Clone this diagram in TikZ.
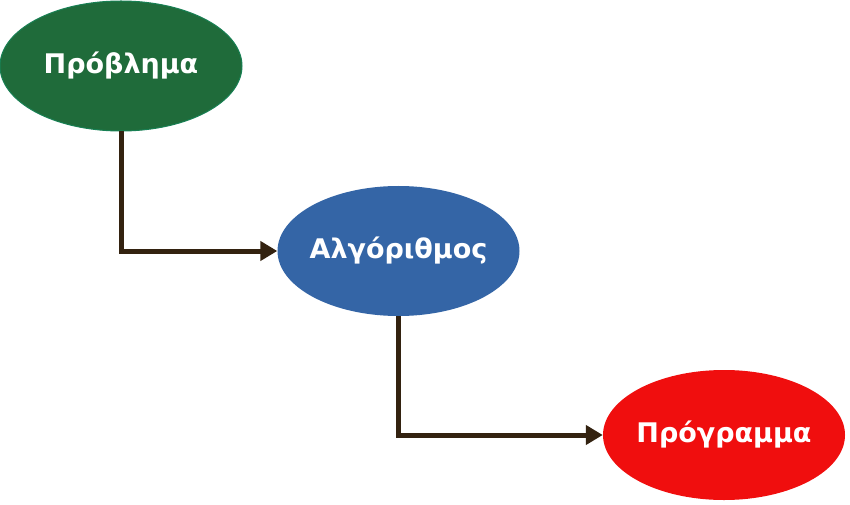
\documentclass[tikz,border=0pt]{standalone}
\usepackage{fontspec}
\setmainfont{DejaVu Sans}
\usetikzlibrary{arrows.meta,shapes.geometric}

\definecolor{probgreen}{RGB}{31,107,58}
\definecolor{probedge}{RGB}{24,128,84}
\definecolor{algoblue}{RGB}{52,101,166}
\definecolor{progred}{RGB}{240,14,14}
\definecolor{arrowbrown}{RGB}{51,34,16}

\begin{document}
\begin{tikzpicture}[x=1pt,y=1pt,
    blob/.style={ellipse, minimum width=242pt, minimum height=130pt,
      inner xsep=-20pt, inner ysep=0pt,
      text=white, font=\fontsize{27}{32}\selectfont\bfseries},
    flow/.style={draw=arrowbrown, line width=5pt,
      -{Triangle[length=17pt,width=19pt]}}]
      \useasboundingbox (0,0) rectangle (850,504);
      \node[blob, fill=probgreen, draw=probedge, line width=1pt] (problem) at (121,438) {Πρόβλημα};
      \node[blob, fill=algoblue] (algorithm) at (398.5,253) {Αλγόριθμος};
      \node[blob, fill=progred] (program) at (724,69) {Πρόγραμμα};

      \draw[flow] (problem.south) |- (algorithm.west);
      \draw[flow] (algorithm.south) |- (program.west);
    \end{tikzpicture}
\end{document}
